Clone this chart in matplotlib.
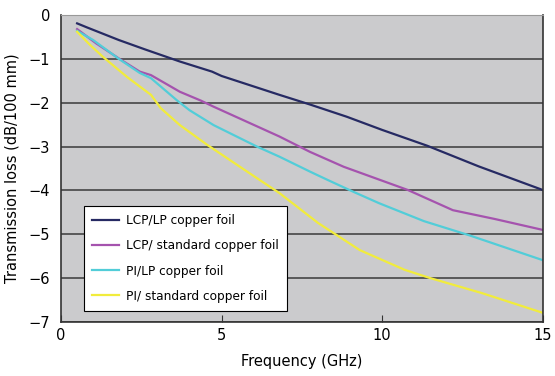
import matplotlib.pyplot as plt

plt.rcParams.update({
    "font.family": "DejaVu Sans",
    "font.size": 10.5,
})

# LCP/LP copper foil
f_lcp_lp = [0.5, 0.8, 1.8, 2.6, 3.7, 4.7, 5.0, 6.8, 7.75, 8.9, 10.0, 11.4, 13.0, 15.0]
v_lcp_lp = [-0.19, -0.28, -0.57, -0.78, -1.06, -1.29, -1.39, -1.82, -2.04, -2.32, -2.62, -2.98, -3.45, -3.99]

# LCP/ standard copper foil
f_lcp_std = [0.5, 1.1, 1.8, 2.45, 2.8, 3.7, 4.35, 4.75, 6.8, 7.75, 8.8, 10.8, 12.2, 13.5, 15.0]
v_lcp_std = [-0.32, -0.65, -0.99, -1.29, -1.37, -1.75, -1.95, -2.09, -2.77, -3.12, -3.46, -3.99, -4.45, -4.65, -4.9]

# PI/LP copper foil
f_pi_lp = [0.5, 1.0, 1.8, 2.45, 2.8, 3.6, 4.0, 4.75, 6.1, 6.8, 7.75, 8.3, 9.1, 9.9, 11.3, 12.7, 15.0]
v_pi_lp = [-0.36, -0.57, -1.0, -1.32, -1.44, -1.94, -2.17, -2.51, -3.0, -3.23, -3.57, -3.76, -4.03, -4.29, -4.7, -5.02, -5.59]

# PI/ standard copper foil
f_pi_std = [0.5, 0.9, 1.3, 2.05, 2.8, 3.1, 3.7, 4.55, 6.1, 6.8, 8.0, 9.3, 10.7, 11.5, 13.1, 15.0]
v_pi_std = [-0.38, -0.68, -0.95, -1.41, -1.82, -2.12, -2.51, -2.96, -3.72, -4.06, -4.74, -5.36, -5.81, -6.0, -6.34, -6.79]

fig = plt.figure(figsize=(5.55, 3.76), dpi=100)
ax = fig.add_axes([0.110, 0.1436, 0.868, 0.8164])
ax.set_facecolor("#CBCBCD")

ax.plot(f_lcp_lp, v_lcp_lp, color="#262A63", lw=1.6, label="LCP/LP copper foil")
ax.plot(f_lcp_std, v_lcp_std, color="#A553AE", lw=1.6, label="LCP/ standard copper foil")
ax.plot(f_pi_lp, v_pi_lp, color="#52CDD8", lw=1.6, label="PI/LP copper foil")
ax.plot(f_pi_std, v_pi_std, color="#F1EC3C", lw=1.6, label="PI/ standard copper foil")

ax.set_xlim(0, 15)
ax.set_ylim(-7, 0)
ax.set_xticks([0, 5, 10, 15])
ax.set_yticks(range(-7, 1))
ax.grid(axis="y", color="#3a3a3a", lw=1.1)
ax.set_axisbelow(True)
ax.tick_params(axis="x", direction="in", length=5, color="#333333", pad=4)
ax.tick_params(axis="y", length=0, pad=8)

for side in ["left", "bottom", "right"]:
    ax.spines[side].set_color("#333333")
    ax.spines[side].set_linewidth(1.2)
ax.spines["top"].set_color("#999999")

ax.set_xlabel("Frequency (GHz)", labelpad=8)
ax.set_ylabel("Transmission loss (dB/100 mm)", labelpad=6)

leg = ax.legend(loc="lower left", bbox_to_anchor=(0.035, 0.016), fontsize=8.7,
                frameon=True, fancybox=False, edgecolor="black", framealpha=1,
                handlelength=2.2, labelspacing=1.0, borderpad=0.7, handletextpad=0.6)
leg.get_frame().set_linewidth(0.8)

fig.savefig("out.png", dpi=100)
